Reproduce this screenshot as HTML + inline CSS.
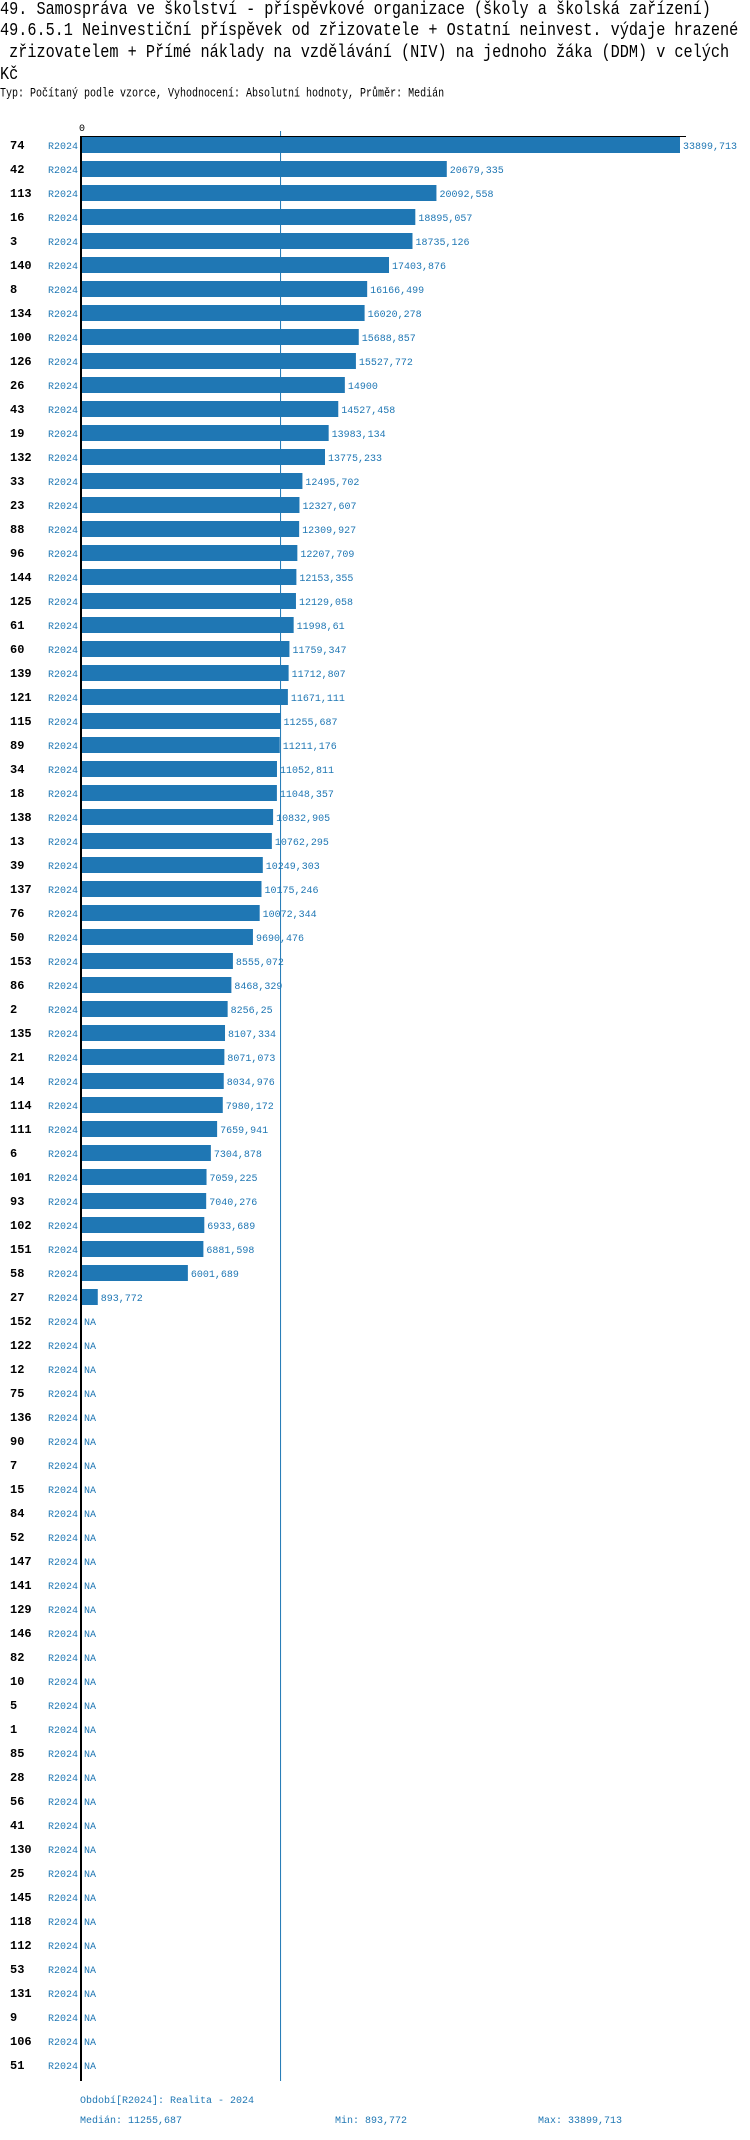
<!DOCTYPE html>
<html><head><meta charset="utf-8">
<style>
body{margin:0;background:#fff;}
#wrap{position:relative;width:750px;height:2140px;overflow:hidden;font-family:"Liberation Mono",monospace;}
.t{position:absolute;white-space:pre;line-height:1;}
.h{font-size:15.2px;transform:scaleY(1.2);transform-origin:0 0;}
</style></head>
<body>
<div id="wrap">
<div class="t h" style="left:0;top:1px;">49. Samospráva ve školství - příspěvkové organizace (školy a školská zařízení)</div>
<div class="t h" style="left:0;top:22px;">49.6.5.1 Neinvestiční příspěvek od zřizovatele + Ostatní neinvest. výdaje hrazené</div>
<div class="t h" style="left:0;top:44px;"> zřizovatelem + Přímé náklady na vzdělávání (NIV) na jednoho žáka (DDM) v celých</div>
<div class="t h" style="left:0;top:66px;">Kč</div>
<div class="t" style="left:0;top:89px;font-size:10px;transform:scaleY(1.25);transform-origin:0 0;">Typ: Počítaný podle vzorce, Vyhodnocení: Absolutní hodnoty, Průměr: Medián</div>
<svg id="chart" width="750" height="2140" style="position:absolute;left:0;top:0;font-family:'Liberation Mono',monospace;"></svg>
<div class="t" style="left:80px;top:2097px;font-size:10px;color:#1f77b4;">Období[R2024]: Realita - 2024</div>
<div class="t" style="left:80px;top:2117px;font-size:10px;color:#1f77b4;">Medián: 11255,687</div>
<div class="t" style="left:335px;top:2117px;font-size:10px;color:#1f77b4;">Min: 893,772</div>
<div class="t" style="left:538px;top:2117px;font-size:10px;color:#1f77b4;">Max: 33899,713</div>
</div>
<script>
const ids=["74","42","113","16","3","140","8","134","100","126","26","43","19","132","33","23","88","96","144","125","61","60","139","121","115","89","34","18","138","13","39","137","76","50","153","86","2","135","21","14","114","111","6","101","93","102","151","58","27","152","122","12","75","136","90","7","15","84","52","147","141","129","146","82","10","5","1","85","28","56","41","130","25","145","118","112","53","131","9","106","51"];
const values=[33899.713,20679.335,20092.558,18895.057,18735.126,17403.876,16166.499,16020.278,15688.857,15527.772,14900,14527.458,13983.134,13775.233,12495.702,12327.607,12309.927,12207.709,12153.355,12129.058,11998.61,11759.347,11712.807,11671.111,11255.687,11211.176,11052.811,11048.357,10832.905,10762.295,10249.303,10175.246,10072.344,9690.476,8555.072,8468.329,8256.25,8107.334,8071.073,8034.976,7980.172,7659.941,7304.878,7059.225,7040.276,6933.689,6881.598,6001.689,893.772];
const period="R2024";
const median=11255.687;
const svg=document.getElementById('chart');
const NS='http://www.w3.org/2000/svg';
const x0=82, k=598/33899.713, y0=145, pitch=24;
const xs=v=>x0+v*k, ys=i=>y0+i*pitch;
function mk(t,a){const e=document.createElementNS(NS,t);for(const n in a)e.setAttribute(n,a[n]);svg.appendChild(e);return e;}
const ml=mk('line',{x1:xs(median),x2:xs(median),y1:131,y2:2081,stroke:'#1f77b4','stroke-width':1});


const ta=mk('line',{x1:80,x2:686,y1:136.5,y2:136.5,stroke:'#000','stroke-width':1});


const z=mk('text',{x:x0,y:131,'font-size':10,'text-anchor':'middle'});z.textContent='0';


ids.forEach((id,i)=>{
 const y=ys(i);
 const l=mk('text',{x:10,y:y+4,'font-size':12,'font-weight':'bold'});l.textContent=id;
 
 
 const p=mk('text',{x:48,y:y+4,'font-size':10,fill:'#1f77b4'});p.textContent=period;
 
 
 if(i<values.length){
  const v=values[i];
  const r=mk('rect',{x:x0,y:y-8,width:xs(v)-x0,height:16,fill:'#1f77b4'});
  
  
  const t=mk('text',{x:xs(v)+3,y:y+4,'font-size':10,fill:'#1f77b4'});t.textContent=String(v).replace('.',',');
  
  
 } else {
  const t=mk('text',{x:84,y:y+4,'font-size':10,fill:'#1f77b4'});t.textContent='NA';
  
  
 }
});
const ya=mk('line',{x1:81,x2:81,y1:136,y2:2081,stroke:'#000','stroke-width':2});


</script>
</body></html>
